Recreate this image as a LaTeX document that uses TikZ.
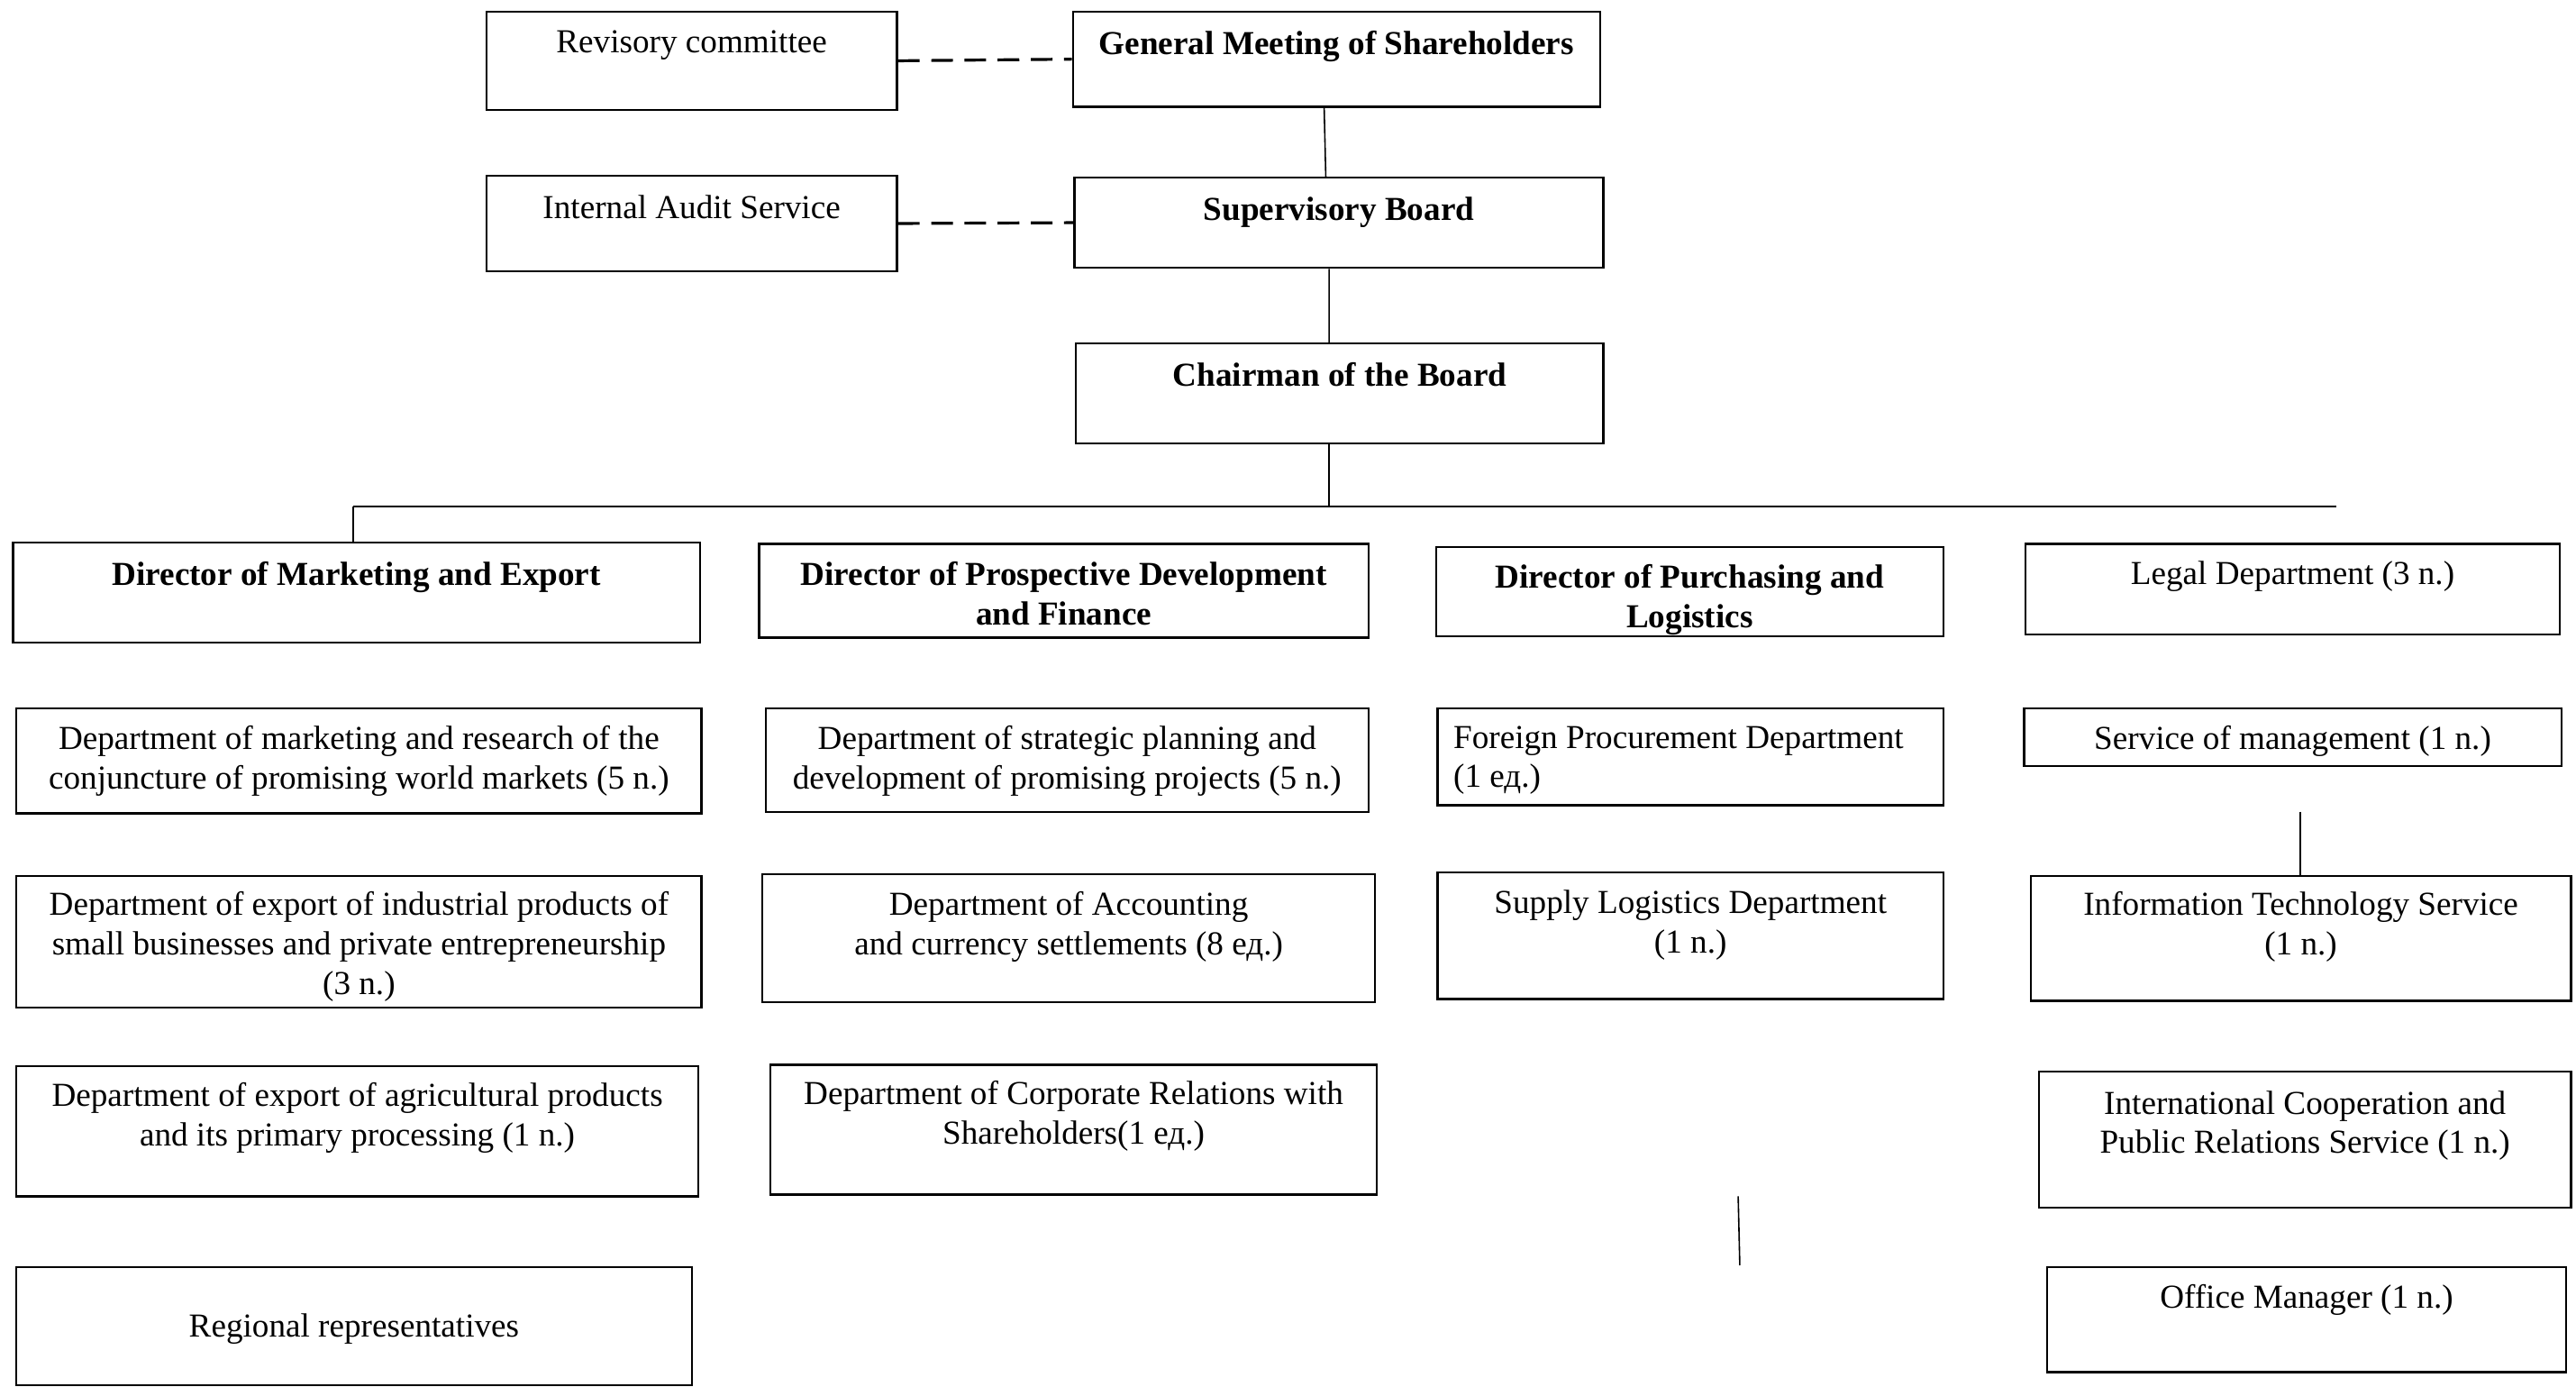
\documentclass[tikz,border=0pt]{standalone}
\usepackage{fontspec}
\setmainfont{Liberation Serif}
\usepackage{tikz}
\usetikzlibrary{
    positioning,
    fit
}
\newcommand{\orgfont}{\fontsize{11.6}{13.7}\selectfont}

\tikzset{
    cell/.style={draw, line width=0.7pt, inner sep=0pt},
    txt/.style={align=center, inner sep=0pt, font=\orgfont},
    head/.style={txt, font=\orgfont\bfseries},
    link/.style={line width=0.5pt},
    dashlink/.style={line width=1pt, dash pattern=on 7.5pt off 4pt}
}

\begin{document}
\begin{tikzpicture}[x=0.2mm, y=-0.2mm]
        \useasboundingbox (0,0) rectangle (1568,844);

        % Governing bodies
        \node[cell, fit={(296,7) (546,67)}] (rc) {};
        \node[txt, below=2.4mm of rc.north] (rc-t) {Revisory committee};
        \node[cell, fit={(653,7) (974,65)}] (gms) {};
        \node[head, below=2.4mm of gms.north] (gms-t) {General Meeting of Shareholders};
        \node[cell, fit={(296,107) (546,165)}] (ias) {};
        \node[txt, below=2.4mm of ias.north] (ias-t) {Internal Audit Service};
        \node[cell, fit={(654,108) (976,163)}] (sb) {};
        \node[head, below=2.4mm of sb.north] (sb-t) {Supervisory Board};
        \node[cell, fit={(655,209) (976,270)}] (ch) {};
        \node[head, below=2.4mm of ch.north] (ch-t) {Chairman of the Board};

        % Directors
        \node[cell, fit={(8,330) (426,391)}] (dme) {};
        \node[head, below=2.4mm of dme.north] (dme-t) {Director of Marketing and Export};
        \node[cell, fit={(462,331) (833,388)}] (dpdf) {};
        \node[head, below=2.2mm of dpdf.north] (dpdf-t) {Director of Prospective Development\\and Finance};
        \node[cell, fit={(874,333) (1183,387)}] (dpl) {};
        \node[head, below=2.2mm of dpl.north] (dpl-t) {Director of Purchasing and\\Logistics};
        \node[cell, fit={(1233,331) (1558,386)}] (legal) {};
        \node[txt, below=2.2mm of legal.north] (legal-t) {Legal Department (3 n.)};

        % Marketing and export
        \node[cell, fit={(10,431) (427,495)}] (d11) {};
        \node[txt, below=2.2mm of d11.north] (d11-t) {Department of marketing and research of the\\conjuncture of promising world markets (5 n.)};
        \node[cell, fit={(10,533) (427,613)}] (d12) {};
        \node[txt, below=2mm of d12.north] (d12-t) {Department of export of industrial products of\\small businesses and private entrepreneurship\\(3 n.)};
        \node[cell, fit={(10,649) (425,728)}] (d13) {};
        \node[txt, below=2mm of d13.north] (d13-t) {Department of export of agricultural products\\and its primary processing (1 n.)};
        \node[cell, fit={(10,771) (421,843)}] (d14) {};
        \node[txt, below=5.8mm of d14.north] (d14-t) {Regional representatives};

        % Development and finance
        \node[cell, fit={(466,431) (833,494)}] (d21) {};
        \node[txt, below=2.2mm of d21.north] (d21-t) {Department of strategic planning and\\development of promising projects (5 n.)};
        \node[cell, fit={(464,532) (837,610)}] (d22) {};
        \node[txt, below=2.2mm of d22.north] (d22-t) {Department of Accounting\\and currency settlements (8 ед.)};
        \node[cell, fit={(469,648) (838,727)}] (d23) {};
        \node[txt, below=2mm of d23.north] (d23-t) {Department of Corporate Relations with\\Shareholders(1 ед.)};

        % Purchasing and logistics
        \node[cell, fit={(875,431) (1183,490)}] (d31) {};
        \node[txt, align=left, below right=2.2mm and 2mm of d31.north west] (d31-t) {Foreign Procurement Department\\(1 ед.)};
        \node[cell, fit={(875,531) (1183,608)}] (d32) {};
        \node[txt, below=2.2mm of d32.north] (d32-t) {Supply Logistics Department\\(1 n.)};

        % Services
        \node[cell, fit={(1232,431) (1559,466)}] (s1) {};
        \node[txt, below=2.2mm of s1.north] (s1-t) {Service of management (1 n.)};
        \node[cell, fit={(1236,533) (1565,609)}] (s2) {};
        \node[txt, below=2mm of s2.north] (s2-t) {Information Technology Service\\(1 n.)};
        \node[cell, fit={(1241,652) (1565,735)}] (s3) {};
        \node[txt, below=2.4mm of s3.north] (s3-t) {International Cooperation and\\Public Relations Service (1 n.)};
        \node[cell, fit={(1246,771) (1562,835)}] (s4) {};
        \node[txt, below=2.2mm of s4.north] (s4-t) {Office Manager (1 n.)};

        % Links
        \draw[dashlink] (rc.east) -- (gms.west);
        \draw[dashlink] (ias.east) -- (sb.west);
        \draw[link] ([xshift=-1.5mm]gms.south) -- ([xshift=-1.6mm]sb.north);
        \draw[link] ([xshift=-1.2mm]sb.south) -- ([xshift=-1.3mm]ch.north);

        % Bus line
        \coordinate (bus-l) at (215,308);
        \coordinate (bus-r) at (1422,308);
        \draw[link] ([xshift=-1.3mm]ch.south) -- ([xshift=-1.3mm]ch.south |- bus-l);
        \draw[link, line width=0.6pt] (bus-l) -- (bus-r);
        \draw[link] (bus-l) -- (bus-l |- dme.north);

        % Loose stubs
        \coordinate (it-stub) at (1400,494);
        \draw[link] (it-stub) -- (it-stub |- s2.north);
        \coordinate (pl-a) at (1058,728);
        \coordinate (pl-b) at (1059,770);
        \draw[link] (pl-a) -- (pl-b);
    \end{tikzpicture}
\end{document}
